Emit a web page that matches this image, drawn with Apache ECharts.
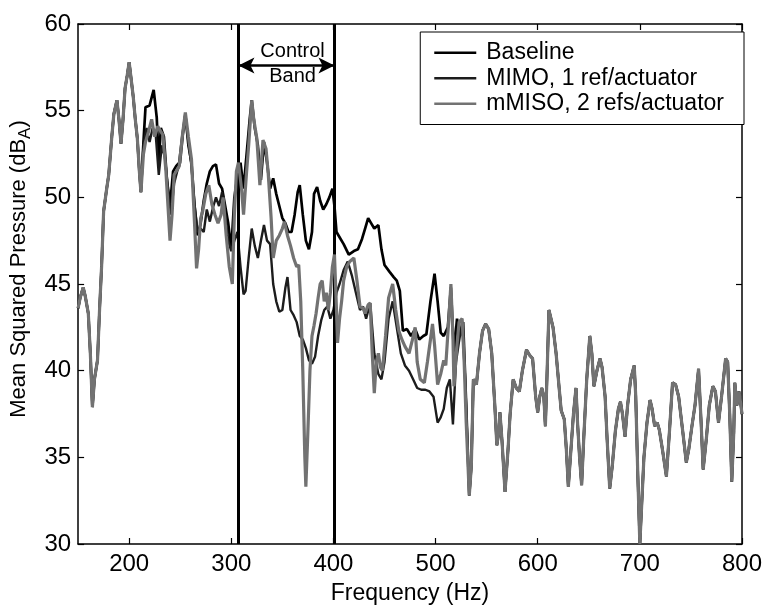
<!DOCTYPE html>
<html>
<head>
<meta charset="utf-8">
<script src="https://cdn.jsdelivr.net/npm/echarts@6/dist/echarts.min.js"></script>
<style>
  html, body { margin: 0; padding: 0; background: #fff; }
  #chart { width: 765px; height: 610px; }
</style>
</head>
<body>
<div id="chart"></div>
<script>
/* ---------- data: [frequency Hz, level dBA] ---------- */

// all three curves coincide below ~212 Hz
const commonLow = [
  [150, 43.6], [152, 44.2], [155, 44.8], [157, 44.3], [160, 43.3], [162, 41.0], [164, 37.9],
  [166, 39.5], [169, 40.6], [171, 43.5], [173, 46.0], [175, 49.2], [178, 50.5], [180, 51.3],
  [183, 53.5], [185, 54.8], [188, 55.6], [190, 54.5], [192, 53.1], [194, 54.5], [196, 56.3],
  [198, 57.0], [200, 57.8], [202, 56.8], [204, 55.8], [206, 54.5], [208, 53.4], [210, 51.5],
  [211.5, 50.3]
];

// ...and above ~532 Hz
const commonTail = [
  [533, 32.8], [535, 34.5], [537, 39.5], [540, 39.2], [543, 41.0], [546, 42.3], [549, 42.7],
  [552, 42.4], [555, 41.0], [558, 38.0], [560, 35.7], [562, 36.5], [563, 37.6], [565, 36.0],
  [568, 33.0], [571, 35.5], [573, 37.5], [576, 39.5], [579, 39.0], [582, 38.8], [585, 40.0],
  [589, 41.2], [592, 40.9], [595, 40.7], [598, 38.5], [600, 37.6], [602, 38.5], [604, 39.0],
  [606, 38.5], [607.5, 36.8], [609, 39.5], [611, 43.5], [613, 43.0], [615, 42.5], [618, 41.0],
  [621, 39.0], [623, 37.7], [626, 37.2], [628, 35.5], [630, 33.3], [632, 35.0], [635, 37.5],
  [637.5, 39.0], [639, 37.0], [641, 35.0], [643, 33.4], [645, 36.0], [648, 39.5], [651, 42.0],
  [653, 41.0], [655, 39.1], [658, 40.0], [661, 40.7], [663, 40.2], [666, 38.5], [668, 36.0],
  [670.5, 33.2], [673, 34.5], [676, 36.5], [679, 37.8], [681, 38.2], [683, 37.5], [685.5, 36.2],
  [688, 38.0], [691, 39.5], [694.5, 40.3], [696, 38.5], [698, 34.0], [700, 30.0], [702, 32.5],
  [704, 35.0], [707, 37.0], [710, 38.3], [712, 37.8], [714.5, 36.8], [717, 37.0], [719, 36.6],
  [722, 35.5], [726, 33.9], [729, 36.5], [732, 39.3], [735, 39.2], [738, 38.5], [742, 36.5],
  [745.5, 34.7], [748, 35.5], [751, 36.8], [754, 38.0], [757.5, 40.1], [760, 37.0], [762, 34.3],
  [765, 36.0], [768, 38.0], [771.5, 39.1], [774, 38.8], [777, 37.0], [780, 38.5], [784, 40.7],
  [786, 40.5], [788, 37.5], [790, 33.6], [792, 36.5], [793, 39.3], [795, 38.0], [797, 38.8],
  [799, 38.0], [800, 37.5]
];

const baselineMid = [
  [214, 53.2], [216, 55.2], [220, 55.3], [224, 56.2], [227, 54.6], [229, 52.0], [231, 54.0],
  [234, 53.5], [237, 51.0], [240, 49.5], [243, 51.5], [246, 51.8], [249, 52.0], [252, 53.5],
  [255, 54.8], [258, 53.0], [261, 52.0], [264, 49.5], [267, 47.8], [270, 48.5], [273, 49.8],
  [276, 50.8], [279, 51.5], [282, 51.8], [285, 51.9], [288, 50.8], [291, 50.5], [294, 49.5],
  [297, 48.5], [300, 47.0], [303, 50.0], [306, 51.2], [309, 52.0], [312, 50.5], [315, 52.5],
  [318, 54.5], [320, 55.6], [323, 54.0], [326, 53.0], [329, 51.0], [332, 53.2], [335, 52.0],
  [338, 50.5], [341, 51.1], [344, 50.2], [347, 49.5], [350, 48.8], [353, 48.5], [356, 48.0],
  [359, 48.0], [362, 49.0], [365, 50.3], [367, 50.7], [370, 49.0], [373, 47.5], [376, 47.0],
  [379, 48.0], [381, 50.2], [384, 50.6], [387, 49.8], [390, 49.3], [393, 49.6], [396, 50.0],
  [399, 50.5], [401, 49.5], [403, 48.0], [406, 47.7], [410, 47.3], [415, 46.7], [420, 46.9],
  [424, 47.0], [428, 47.6], [431, 48.2], [434, 48.8], [437, 48.5], [440, 48.2], [444, 48.4],
  [447, 47.0], [450, 46.1], [455, 45.7], [459, 45.4], [462, 45.2], [465, 44.6], [468, 42.3],
  [472, 42.4], [476, 42.0], [480, 42.4], [484, 41.8], [488, 42.0], [491, 42.1], [495, 44.0],
  [499, 45.6], [502, 44.0], [505, 42.2], [508, 42.0], [512, 42.5], [515, 44.8], [518, 41.0],
  [521, 43.0], [524, 42.0], [527, 42.8], [530, 38.0]
];

const mimoMid = [
  [214, 53.0], [217, 54.0], [220, 53.2], [223, 54.0], [226, 53.6], [229, 51.3], [232, 53.0],
  [235, 52.3], [238, 50.5], [241, 49.0], [244, 50.8], [247, 51.5], [250, 52.0], [253, 53.8],
  [255, 54.8], [258, 53.2], [261, 51.8], [264, 49.6], [267, 48.0], [270, 48.2], [273, 48.0],
  [276, 49.3], [279, 48.6], [282, 49.4], [285, 50.0], [288, 49.5], [291, 50.3], [294, 49.0],
  [297, 47.5], [300, 46.9], [303, 47.5], [306, 48.0], [309, 46.0], [312, 44.4], [314, 44.6],
  [317, 46.5], [320, 48.2], [323, 47.2], [326, 46.5], [329, 47.5], [332, 48.4], [335, 47.5],
  [338, 47.3], [341, 45.0], [344, 44.0], [347, 43.4], [350, 43.5], [353, 44.8], [355, 45.4],
  [358, 43.5], [361, 43.2], [364, 42.8], [367, 42.0], [370, 41.8], [373, 41.3], [376, 40.6],
  [379, 40.4], [382, 40.8], [385, 42.0], [388, 42.9], [391, 43.5], [394, 43.7], [397, 43.0],
  [400, 43.5], [403, 44.5], [406, 45.0], [410, 45.8], [414, 46.3], [418, 45.5], [422, 44.5],
  [426, 43.5], [429, 43.7], [432, 43.0], [436, 43.9], [440, 41.0], [444, 39.8], [447, 39.5],
  [450, 40.5], [454, 43.0], [458, 44.0], [462, 42.5], [466, 41.0], [470, 40.3], [474, 40.0],
  [478, 39.5], [482, 39.0], [486, 38.9], [490, 38.9], [494, 38.8], [498, 38.5], [502, 37.0],
  [505, 37.3], [508, 37.8], [511, 39.0], [514, 39.5], [517, 36.9], [520, 40.5], [523, 41.7],
  [526, 42.8], [529, 39.5]
];

const mmisoMid = [
  [214, 52.5], [216, 53.2], [219, 53.8], [222, 54.5], [225, 53.5], [228, 54.1], [231, 53.8],
  [233, 53.6], [236, 51.5], [238, 49.5], [240, 47.5], [242, 49.0], [244, 51.3], [247, 51.6],
  [249, 51.8], [252, 53.5], [255, 54.9], [258, 53.5], [261, 52.2], [264, 48.5], [266, 45.9],
  [268, 47.0], [270, 48.8], [272, 49.2], [275, 50.2], [278, 50.7], [281, 49.6], [284, 49.0],
  [287, 48.5], [290, 49.0], [292, 50.0], [295, 47.8], [298, 46.0], [301, 45.0], [303, 49.0],
  [305, 51.5], [307, 52.0], [310, 50.5], [312, 49.0], [315, 51.5], [317, 53.0], [320, 55.6],
  [322, 54.5], [325, 53.4], [328, 50.7], [331, 53.3], [334, 52.8], [336, 51.5], [339, 48.8],
  [341, 46.5], [344, 47.5], [347, 47.8], [350, 48.2], [352, 48.6], [355, 47.8], [358, 47.2],
  [361, 46.5], [364, 46.0], [366, 46.1], [368, 44.0], [370, 40.0], [372, 35.0], [373, 33.3],
  [375, 36.5], [377, 40.0], [379, 42.0], [381, 42.6], [383, 43.3], [385, 44.2], [387, 45.0],
  [389, 45.2], [391, 44.0], [393, 44.5], [395, 43.5], [397, 44.5], [399, 46.0], [401, 46.7],
  [403, 43.5], [404, 41.6], [406, 43.0], [408, 44.0], [410, 45.2], [413, 46.0], [416, 46.3],
  [420, 46.5], [423, 45.2], [426, 43.7], [429, 43.6], [431, 43.3], [434, 43.8], [436, 43.9],
  [438, 41.0], [440, 38.7], [442, 40.5], [444, 41.0], [446, 40.2], [448, 40.0], [451, 42.0],
  [454, 44.2], [458, 45.0], [461, 43.5], [464, 42.3], [467, 41.8], [470, 41.4], [474, 41.0],
  [477, 41.7], [480, 42.5], [482, 40.5], [485, 39.5], [489, 39.3], [492, 40.5], [495, 41.8],
  [497, 42.7], [499, 41.5], [502, 39.2], [505, 39.8], [508, 40.6], [510, 40.3], [513, 43.0],
  [515, 45.0], [517, 42.0], [518, 39.1], [521, 41.5], [523, 42.8], [526, 43.0], [528, 40.5],
  [530, 37.0]
];

const xTicks = [200, 300, 400, 500, 600, 700, 800];
const controlBand = [307, 401];   // Hz, edges of the control band
const arrowLevel = 57.6;          // dBA, height of the double arrow
const seriesNames = ["Baseline", "MIMO, 1 ref/actuator", "mMISO, 2 refs/actuator"];

/* ---------- chart ---------- */

const FONT = "Liberation Sans, Arial, Helvetica, sans-serif";
const chart = echarts.init(document.getElementById("chart"), null, { renderer: "canvas" });

const boxAxis = {
    axisLine: { show: true, lineStyle: { color: "#000", width: 1.5 } },
    splitLine: { show: false },
};
const tickStyle = { show: true, inside: true, length: 6, lineStyle: { color: "#000", width: 1.2 } };

chart.setOption({
    animation: false,
    backgroundColor: "#fff",
    grid: { left: 70, right: 22, top: 24, bottom: 60, containLabel: false },
    legend: {
        right: 21, top: 32,
        orient: "vertical",
        data: seriesNames,
        icon: "rect",
        itemWidth: 42, itemHeight: 2.5, itemGap: 0,
        padding: [8, 20, 8, 14],
        backgroundColor: "#fff",
        borderColor: "#000", borderWidth: 1,
        borderRadius: 0,
        textStyle: { fontFamily: FONT, fontSize: 23, color: "#000", lineHeight: 25.5, padding: [0, 0, 0, 5] },
    },
    xAxis: [
        {
            ...boxAxis, type: "value", min: 150, max: 800,
            axisTick: { ...tickStyle, customValues: xTicks },
            name: "Frequency (Hz)", nameLocation: "middle", nameGap: 38,
            nameTextStyle: { fontFamily: FONT, fontSize: 23, color: "#000" },
            axisLabel: { fontFamily: FONT, fontSize: 24, color: "#000", margin: 8, customValues: xTicks },
        },
        {
            ...boxAxis, type: "value", min: 150, max: 800, position: "top",
            axisTick: { ...tickStyle, customValues: xTicks },
            axisLabel: { show: false },
        },
    ],
    yAxis: [
        {
            ...boxAxis, type: "value", min: 30, max: 60, interval: 5,
            axisTick: tickStyle,
            name: "Mean Squared Pressure (dB{sub|A})", nameLocation: "middle", nameGap: 40, nameRotate: 90,
            nameTextStyle: {
                fontFamily: FONT, fontSize: 22, color: "#000", padding: [0, 0, 0, 30],
                rich: { sub: { fontFamily: FONT, fontSize: 17, verticalAlign: "bottom", padding: [12, 0, 0, 0] } },
            },
            axisLabel: { fontFamily: FONT, fontSize: 24, color: "#000", margin: 7 },
        },
        {
            ...boxAxis, type: "value", min: 30, max: 60, interval: 5, position: "right",
            axisTick: tickStyle,
            axisLabel: { show: false },
        },
    ],
    series: [
        {
            name: seriesNames[0], type: "line", symbol: "none", z: 3,
            lineStyle: { color: "#000", width: 2.7 }, itemStyle: { color: "#000" },
            data: commonLow.concat(baselineMid, commonTail),
        },
        {
            name: seriesNames[1], type: "line", symbol: "none", z: 4,
            lineStyle: { color: "#1c1c1c", width: 2.4 }, itemStyle: { color: "#1c1c1c" },
            data: commonLow.concat(mimoMid, commonTail),
        },
        {
            name: seriesNames[2], type: "line", symbol: "none", z: 5,
            lineStyle: { color: "#727272", width: 3.2 }, itemStyle: { color: "#727272" },
            data: commonLow.concat(mmisoMid, commonTail),
        },
        {
            // control band: two vertical edges, double arrow and caption
            name: "band", type: "line", symbol: "none", data: [], z: 6,
            markLine: {
                silent: true, symbol: "none", label: { show: false },
                lineStyle: { color: "#000", width: 3, type: "solid" },
                data: [
                    { xAxis: controlBand[0] },
                    { xAxis: controlBand[1] },
                    [
                        { coord: [controlBand[0], arrowLevel], symbol: "arrow", symbolSize: [12, 16] },
                        { coord: [controlBand[1], arrowLevel], symbol: "arrow", symbolSize: [12, 16], lineStyle: { width: 2.5 } },
                    ],
                ],
            },
            markPoint: {
                silent: true, symbol: "circle", symbolSize: 0,
                label: { show: true, position: "inside", formatter: "{b}", fontFamily: FONT, fontSize: 20, color: "#000" },
                data: [
                    { name: "Control", coord: [360, 58.4] },
                    { name: "Band", coord: [360, 57.0] },
                ],
            },
        },
    ],
});
</script>
</body>
</html>
